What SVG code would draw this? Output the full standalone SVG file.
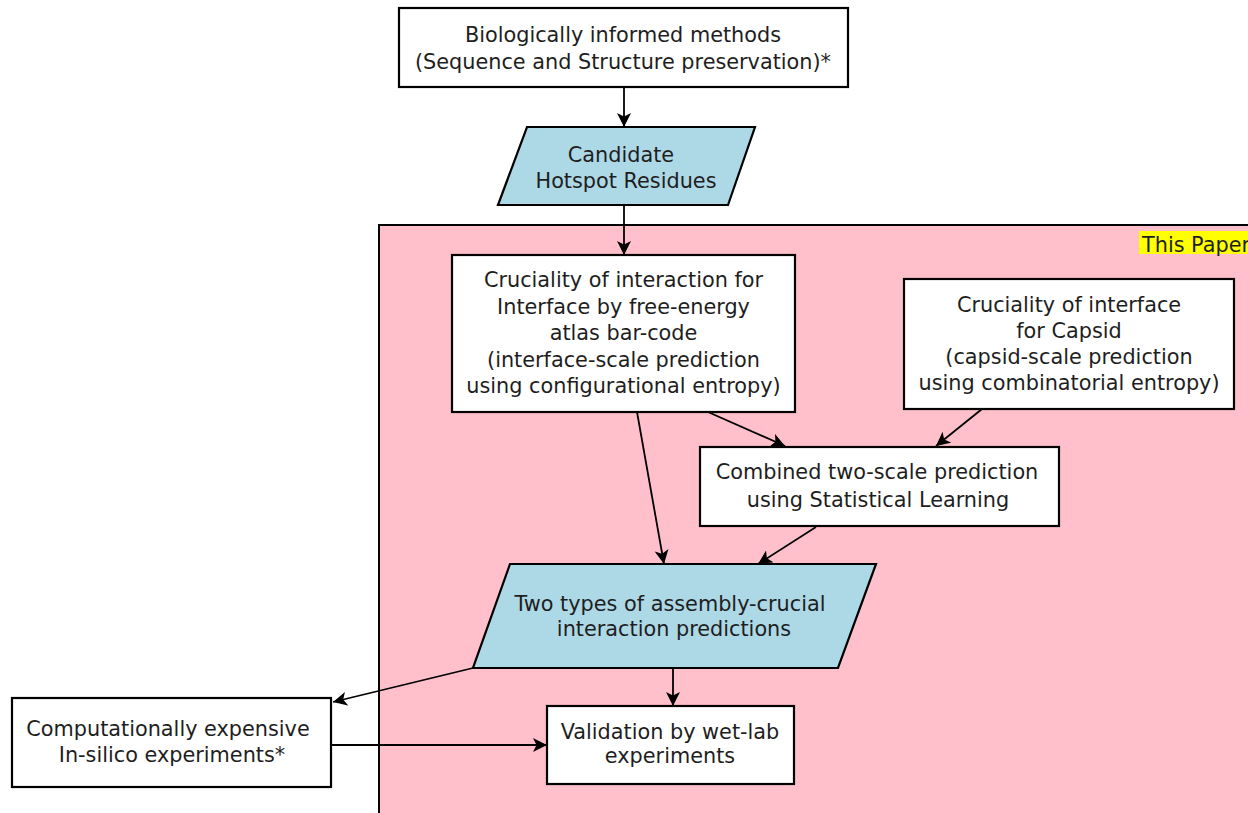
<svg xmlns="http://www.w3.org/2000/svg" width="1248" height="813" viewBox="0 0 1248 813">
<defs>
<style>
.box{fill:#fff;stroke:#000;stroke-width:2.2}
.para{fill:#add8e6;stroke:#000;stroke-width:2.2}
.t{font-family:"DejaVu Sans",sans-serif;font-size:20.8px;fill:#1e1e1e;text-anchor:middle}
.c{stroke:#000;stroke-width:1.8;fill:none;marker-end:url(#arr)}
</style>
<marker id="arr" markerUnits="userSpaceOnUse" markerWidth="16" markerHeight="16" refX="14" refY="7" orient="auto">
<path d="M0,0 L14,7 L0,14 L3.5,7 Z" fill="#000"/>
</marker>
</defs>
<rect width="1248" height="813" fill="#fff"/>
<g id="this-paper-region">
<rect x="379" y="225" width="900" height="620" fill="#ffc0cb" stroke="#000" stroke-width="2"/>
<rect x="1139" y="231" width="110" height="23" fill="#ffff00"/>
<text x="1142" y="251.5" class="t" style="text-anchor:start">This Paper</text>
</g>
<g id="connectors">
<line class="c" x1="624" y1="87" x2="624" y2="127"/>
<line class="c" x1="624" y1="205" x2="624" y2="255"/>
<line class="c" x1="708" y1="412" x2="785" y2="446"/>
<line class="c" x1="982" y1="409" x2="936" y2="446"/>
<line class="c" x1="637" y1="412" x2="664" y2="564"/>
<line class="c" x1="816" y1="527" x2="758" y2="564"/>
<line class="c" x1="473" y1="668" x2="333" y2="702"/>
<line class="c" x1="673" y1="668" x2="673" y2="706"/>
<line class="c" x1="331" y1="745" x2="547" y2="745"/>
</g>
<g id="bio-methods">
<rect class="box" x="399" y="8" width="449" height="79"/>
<text class="t" x="623" y="42">Biologically informed methods</text>
<text class="t" x="623" y="68.5">(Sequence and Structure preservation)*</text>
</g>
<g id="candidate-hotspots">
<polygon class="para" points="527,127 755,127 728,205 498,205"/>
<text class="t" x="621" y="162">Candidate</text>
<text class="t" x="626" y="188">Hotspot Residues</text>
</g>
<g id="interface-cruciality">
<rect class="box" x="452" y="255" width="343" height="157"/>
<text class="t" x="623.5" y="287">Cruciality of interaction for</text>
<text class="t" x="623.5" y="313.5">Interface by free-energy</text>
<text class="t" x="623.5" y="340">atlas bar-code</text>
<text class="t" x="623.5" y="366.5">(interface-scale prediction</text>
<text class="t" x="623.5" y="393">using configurational entropy)</text>
</g>
<g id="capsid-cruciality">
<rect class="box" x="904" y="279" width="330" height="130"/>
<text class="t" x="1069" y="311.5">Cruciality of interface</text>
<text class="t" x="1069" y="337.5">for Capsid</text>
<text class="t" x="1069" y="363.5">(capsid-scale prediction</text>
<text class="t" x="1069" y="389.5">using combinatorial entropy)</text>
</g>
<g id="combined-prediction">
<rect class="box" x="700" y="447" width="359" height="79"/>
<text class="t" x="877" y="479">Combined two-scale prediction</text>
<text class="t" x="878" y="507">using Statistical Learning</text>
</g>
<g id="two-types">
<polygon class="para" points="510,564 876,564 838,668 473,668"/>
<text class="t" x="670" y="611">Two types of assembly-crucial</text>
<text class="t" x="674" y="636">interaction predictions</text>
</g>
<g id="in-silico">
<rect class="box" x="12" y="698" width="319" height="89"/>
<text class="t" x="168" y="736">Computationally expensive</text>
<text class="t" x="172" y="762">In-silico experiments*</text>
</g>
<g id="wet-lab">
<rect class="box" x="547" y="706" width="247" height="78"/>
<text class="t" x="670" y="739">Validation by wet-lab</text>
<text class="t" x="670" y="763">experiments</text>
</g>
</svg>
